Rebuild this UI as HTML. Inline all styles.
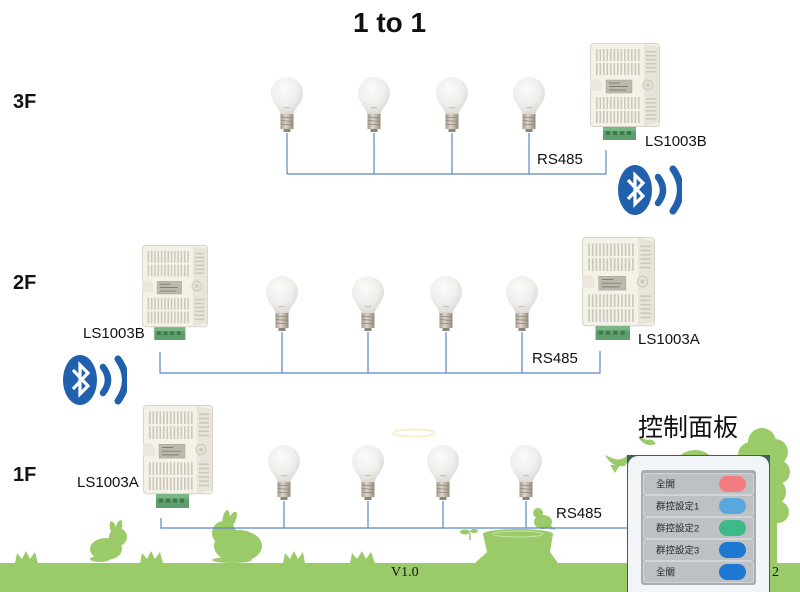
<!DOCTYPE html>
<html>
<head>
<meta charset="utf-8">
<style>
html,body{margin:0;padding:0;background:#fff;}
svg{display:block;}
</style>
</head>
<body>
<svg width="800" height="592" viewBox="0 0 800 592" xmlns="http://www.w3.org/2000/svg">
<defs>
  <radialGradient id="glob" cx="0.42" cy="0.32" r="0.75">
    <stop offset="0" stop-color="#fbfbfa"/>
    <stop offset="0.55" stop-color="#efeeeb"/>
    <stop offset="1" stop-color="#d4d2cd"/>
  </radialGradient>
  <linearGradient id="basegr" x1="0" x2="1" y1="0" y2="0">
    <stop offset="0" stop-color="#a39a8a"/>
    <stop offset="0.4" stop-color="#dcd6cb"/>
    <stop offset="1" stop-color="#958c7d"/>
  </linearGradient>
  <symbol id="bulb" viewBox="0 0 32 56">
    <path d="M9.5,38 C9.5,32 0,26 0,16 A16,16 0 1 1 32,16 C32,26 22.5,32 22.5,38 Z" fill="url(#glob)"/>
    <rect x="13" y="30" width="6" height="1.2" fill="#c8c4bc"/>
    <rect x="9.5" y="37" width="13" height="15" fill="url(#basegr)"/>
    <g stroke="#8c8374" stroke-width="0.8">
      <line x1="9.5" y1="40" x2="22.5" y2="41"/>
      <line x1="9.5" y1="43.5" x2="22.5" y2="44.5"/>
      <line x1="9.5" y1="47" x2="22.5" y2="48"/>
    </g>
    <rect x="12.5" y="52" width="7" height="3" fill="#8d8577"/>
  </symbol>
  <symbol id="dev" viewBox="0 0 70 97" preserveAspectRatio="none">
    <rect x="0.5" y="0.5" width="69" height="83" rx="3" fill="#f4f1e9" stroke="#d9d4c8"/>
    <path d="M54,1 L69,4 L69,80 L54,83 Z" fill="#e8e4da"/>
    <g fill="#cdc7b9">
      <rect x="6" y="6" width="1.6" height="12"/><rect x="9.5" y="6" width="1.6" height="12"/><rect x="13" y="6" width="1.6" height="12"/><rect x="16.5" y="6" width="1.6" height="12"/><rect x="20" y="6" width="1.6" height="12"/><rect x="23.5" y="6" width="1.6" height="12"/><rect x="27" y="6" width="1.6" height="12"/><rect x="30.5" y="6" width="1.6" height="12"/><rect x="34" y="6" width="1.6" height="12"/><rect x="37.5" y="6" width="1.6" height="12"/><rect x="41" y="6" width="1.6" height="12"/><rect x="44.5" y="6" width="1.6" height="12"/><rect x="48" y="6" width="1.6" height="12"/>
      <rect x="6" y="20" width="1.6" height="12"/><rect x="9.5" y="20" width="1.6" height="12"/><rect x="13" y="20" width="1.6" height="12"/><rect x="16.5" y="20" width="1.6" height="12"/><rect x="20" y="20" width="1.6" height="12"/><rect x="23.5" y="20" width="1.6" height="12"/><rect x="27" y="20" width="1.6" height="12"/><rect x="30.5" y="20" width="1.6" height="12"/><rect x="34" y="20" width="1.6" height="12"/><rect x="37.5" y="20" width="1.6" height="12"/><rect x="41" y="20" width="1.6" height="12"/><rect x="44.5" y="20" width="1.6" height="12"/><rect x="48" y="20" width="1.6" height="12"/>
      <rect x="6" y="54" width="1.6" height="12"/><rect x="9.5" y="54" width="1.6" height="12"/><rect x="13" y="54" width="1.6" height="12"/><rect x="16.5" y="54" width="1.6" height="12"/><rect x="20" y="54" width="1.6" height="12"/><rect x="23.5" y="54" width="1.6" height="12"/><rect x="27" y="54" width="1.6" height="12"/><rect x="30.5" y="54" width="1.6" height="12"/><rect x="34" y="54" width="1.6" height="12"/><rect x="37.5" y="54" width="1.6" height="12"/><rect x="41" y="54" width="1.6" height="12"/><rect x="44.5" y="54" width="1.6" height="12"/><rect x="48" y="54" width="1.6" height="12"/>
      <rect x="6" y="68" width="1.6" height="12"/><rect x="9.5" y="68" width="1.6" height="12"/><rect x="13" y="68" width="1.6" height="12"/><rect x="16.5" y="68" width="1.6" height="12"/><rect x="20" y="68" width="1.6" height="12"/><rect x="23.5" y="68" width="1.6" height="12"/><rect x="27" y="68" width="1.6" height="12"/><rect x="30.5" y="68" width="1.6" height="12"/><rect x="34" y="68" width="1.6" height="12"/><rect x="37.5" y="68" width="1.6" height="12"/><rect x="41" y="68" width="1.6" height="12"/><rect x="44.5" y="68" width="1.6" height="12"/><rect x="48" y="68" width="1.6" height="12"/>
      <rect x="56" y="8" width="10" height="1.5"/><rect x="56" y="12" width="10" height="1.5"/><rect x="56" y="16" width="10" height="1.5"/><rect x="56" y="20" width="10" height="1.5"/><rect x="56" y="24" width="10" height="1.5"/><rect x="56" y="28" width="10" height="1.5"/>
      <rect x="56" y="55" width="10" height="1.5"/><rect x="56" y="59" width="10" height="1.5"/><rect x="56" y="63" width="10" height="1.5"/><rect x="56" y="67" width="10" height="1.5"/><rect x="56" y="71" width="10" height="1.5"/><rect x="56" y="75" width="10" height="1.5"/>
    </g>
    <path d="M0,36 L8,36 L12,40 L12,48 L0,48 Z" fill="#ebe7dd"/>
    <rect x="16" y="37" width="26" height="13" fill="#bcb8ae" stroke="#a9a59b" stroke-width="0.5"/>
    <g stroke="#6d6a63" stroke-width="0.7">
      <line x1="19" y1="40" x2="30" y2="40"/>
      <line x1="19" y1="43.5" x2="38" y2="43.5"/>
      <line x1="19" y1="47" x2="36" y2="47"/>
    </g>
    <circle cx="58" cy="42" r="5" fill="#e6e1d5" stroke="#cfc8ba"/>
    <circle cx="58" cy="42" r="1.8" fill="#cfc8ba"/>
    <rect x="13" y="84" width="33" height="13" fill="#5f9f6d"/>
    <rect x="13" y="84" width="33" height="4" fill="#78b585"/>
    <g fill="#3f7a4e">
      <rect x="16" y="88" width="4" height="4"/><rect x="23" y="88" width="4" height="4"/><rect x="30" y="88" width="4" height="4"/><rect x="37" y="88" width="4" height="4"/>
    </g>
  </symbol>
  <symbol id="bt" viewBox="0 0 64 50">
    <ellipse cx="17" cy="25" rx="17" ry="25" fill="#2160ad"/>
    <path d="M10,15 L25,31 L17,39 L17,10 L25,18 L10,34" fill="none" stroke="#fff" stroke-width="3.2" stroke-linejoin="miter"/>
    <path d="M40,12 Q50,25 40,38" fill="none" stroke="#2160ad" stroke-width="6.5" stroke-linecap="round"/>
    <path d="M55,4 Q70,25 55,46" fill="none" stroke="#2160ad" stroke-width="7" stroke-linecap="round"/>
  </symbol>
</defs>

<!-- Title and floor labels -->
<g font-family="'Liberation Sans', sans-serif" font-weight="bold" fill="#111">
  <text x="353" y="32" font-size="28">1 to 1</text>
  <text x="13" y="108" font-size="20">3F</text>
  <text x="13" y="289" font-size="20">2F</text>
  <text x="13" y="481" font-size="20">1F</text>
</g>

<!-- Decorations (behind) -->
<g fill="#9acb68">
  <ellipse cx="414" cy="433" rx="21" ry="3.5" fill="none" stroke="#f7f0c8" stroke-width="2"/>
  <rect x="0" y="563" width="800" height="29"/>
  <path d="M15,563 L17,553 L22,559 L26,551 L30,559 L35,552 L38,563 Z"/>
  <path d="M140,563 L142,553 L147,559 L151,551 L155,559 L160,552 L163,563 Z"/>
  <path d="M283,563 L285,553 L290,559 L294,551 L298,559 L303,552 L305,563 Z"/>
  <path d="M350,563 L352,553 L357,559 L362,551 L366,559 L371,552 L375,563 Z"/>
  <ellipse cx="106" cy="549" rx="16" ry="11"/>
  <circle cx="118" cy="537" r="9"/>
  <ellipse cx="113" cy="528" rx="3" ry="7" transform="rotate(-15 113 528)"/>
  <ellipse cx="119" cy="527" rx="3" ry="7" transform="rotate(15 119 527)"/>
  <ellipse cx="100" cy="559" rx="10" ry="3"/>
  <ellipse cx="238" cy="546" rx="24" ry="16"/>
  <circle cx="224" cy="533" r="12"/>
  <ellipse cx="226" cy="519" rx="3.5" ry="9" transform="rotate(10 226 519)"/>
  <ellipse cx="232" cy="520" rx="3.5" ry="9" transform="rotate(25 232 520)"/>
  <ellipse cx="232" cy="560" rx="20" ry="3"/>
  <path d="M483,534 L553,534 L550,552 L558,563 L475,563 L487,552 Z"/>
  <ellipse cx="518" cy="534" rx="35" ry="5"/>
  <ellipse cx="518" cy="534" rx="25" ry="3" fill="none" stroke="#c8e3a8" stroke-width="1"/>
  <path d="M470,540 L470,533" stroke="#9acb68" stroke-width="1.5" fill="none"/>
  <ellipse cx="465" cy="532" rx="5" ry="2.5"/>
  <ellipse cx="474" cy="531" rx="4" ry="2"/>
  <ellipse cx="543" cy="522" rx="9" ry="7"/>
  <circle cx="538" cy="513" r="5"/>
  <path d="M548,523 L556,530 L546,528 Z"/>
  <path d="M605,455 Q612,468 625,466 Q630,458 628,455 Q620,462 612,458 Z"/>
  <path d="M610,465 L615,473 L620,465 Z"/>
  <path d="M638,437 Q645,448 656,444 Q652,438 648,440 Z"/>
  <ellipse cx="695" cy="463" rx="18" ry="13"/>
  <circle cx="762" cy="442" r="14"/>
  <circle cx="775" cy="452" r="13"/>
  <circle cx="751" cy="455" r="13"/>
  <circle cx="778" cy="472" r="12"/>
  <circle cx="772" cy="492" r="14"/>
  <circle cx="778" cy="512" r="11"/>
  <rect x="765" y="500" width="12" height="63"/>
</g>

<!-- Connectors -->
<g stroke="#5b86c8" stroke-width="1.2" fill="none">
  <path d="M287,133 V174 M374,133 V174 M452,133 V174 M529,133 V174 M287,174 H606 V150"/>
  <path d="M160,352 V373 H600 V351 M282,332 V373 M368,332 V373 M446,332 V373 M522,332 V373"/>
  <path d="M161,518 V528 H630 M284,501 V528 M368,501 V528 M443,501 V528 M526,501 V528"/>
</g>

<!-- Bulbs -->
<use href="#bulb" x="271" y="77" width="32" height="56"/>
<use href="#bulb" x="358" y="77" width="32" height="56"/>
<use href="#bulb" x="436" y="77" width="32" height="56"/>
<use href="#bulb" x="513" y="77" width="32" height="56"/>

<use href="#bulb" x="266" y="276" width="32" height="56"/>
<use href="#bulb" x="352" y="276" width="32" height="56"/>
<use href="#bulb" x="430" y="276" width="32" height="56"/>
<use href="#bulb" x="506" y="276" width="32" height="56"/>

<use href="#bulb" x="268" y="445" width="32" height="56"/>
<use href="#bulb" x="352" y="445" width="32" height="56"/>
<use href="#bulb" x="427" y="445" width="32" height="56"/>
<use href="#bulb" x="510" y="445" width="32" height="56"/>

<!-- Devices -->
<use href="#dev" x="590" y="43" width="70" height="97"/>
<use href="#dev" x="142" y="245" width="66" height="95"/>
<use href="#dev" x="582" y="237" width="73" height="103"/>
<use href="#dev" x="143" y="405" width="70" height="103"/>

<!-- Bluetooth -->
<use href="#bt" x="618" y="165" width="64" height="50"/>
<use href="#bt" x="63" y="355" width="64" height="50"/>

<!-- Labels -->
<g font-family="'Liberation Sans', sans-serif" font-size="15" fill="#111">
  <text x="645" y="146">LS1003B</text>
  <text x="537" y="164">RS485</text>
  <text x="83" y="338">LS1003B</text>
  <text x="638" y="344">LS1003A</text>
  <text x="532" y="363">RS485</text>
  <text x="77" y="487">LS1003A</text>
  <text x="556" y="518">RS485</text>
</g>

<!-- Control panel -->
<text x="638" y="436" font-family="'Liberation Sans','Noto Sans CJK TC',sans-serif" font-size="25" fill="#111">控制面板</text>
<rect x="627" y="455" width="143" height="137" fill="#3e5d62"/>
<rect x="628" y="456" width="141" height="146" rx="10" fill="#f2f5f8"/>
<rect x="641" y="470" width="115" height="115" rx="3" fill="#a8adb0"/>
<g fill="#bdc1c4" stroke="#d2d5d8" stroke-width="1">
  <rect x="643.5" y="473.5" width="110" height="21" rx="2"/>
  <rect x="643.5" y="495.5" width="110" height="21" rx="2"/>
  <rect x="643.5" y="517.5" width="110" height="21" rx="2"/>
  <rect x="643.5" y="539.5" width="110" height="21" rx="2"/>
  <rect x="643.5" y="561.5" width="110" height="21" rx="2"/>
</g>
<rect x="719" y="476" width="27" height="16" rx="8" fill="#f27c7f"/>
<rect x="719" y="498" width="27" height="16" rx="8" fill="#5aa7de"/>
<rect x="719" y="520" width="27" height="16" rx="8" fill="#3dba87"/>
<rect x="719" y="542" width="27" height="16" rx="8" fill="#1f78d2"/>
<rect x="719" y="564" width="27" height="16" rx="8" fill="#1f78d2"/>
<g font-family="'Liberation Sans','Noto Sans CJK TC',sans-serif" font-size="9.5" fill="#2a2a2a">
  <text x="656" y="487.5">全開</text>
  <text x="656" y="509.5">群控設定1</text>
  <text x="656" y="531.5">群控設定2</text>
  <text x="656" y="553.5">群控設定3</text>
  <text x="656" y="575.5">全關</text>
</g>

<!-- Footer -->
<g font-family="'Liberation Serif', serif" font-size="14" fill="#111">
  <text x="391" y="576">V1.0</text>
  <text x="772" y="576">2</text>
</g>
</svg>
</body>
</html>
